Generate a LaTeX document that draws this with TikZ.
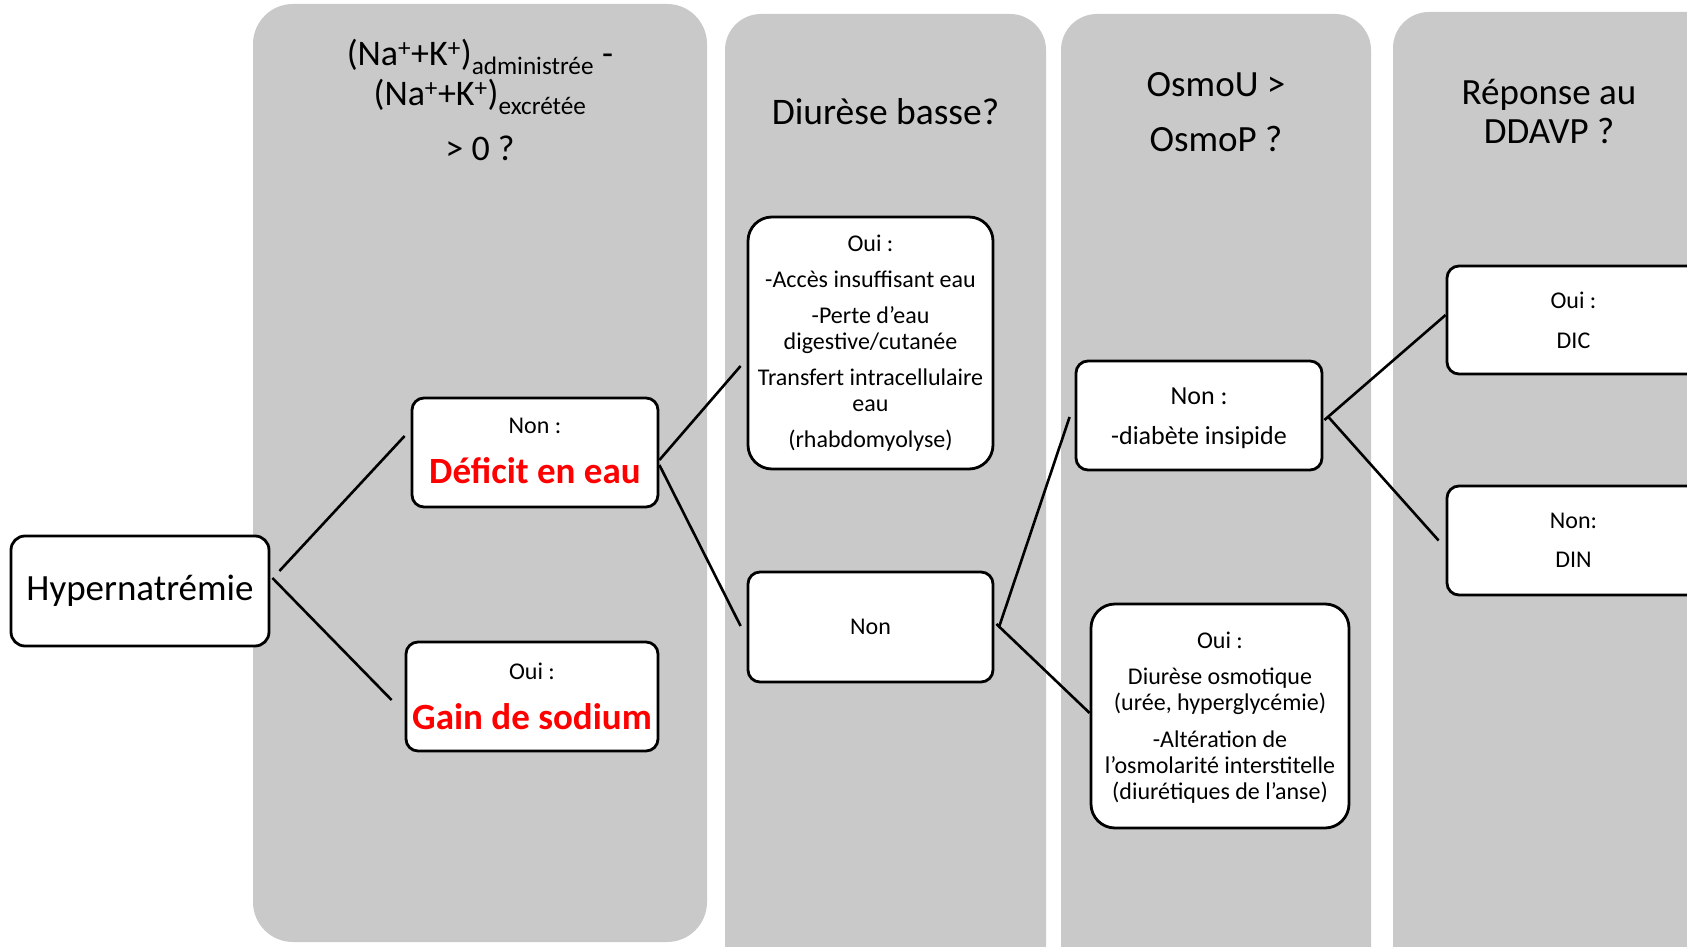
\documentclass[tikz,border=0pt]{standalone}
\usepackage{fontspec}
\setmainfont{Carlito}
\usetikzlibrary{calc}
\definecolor{lanegray}{RGB}{201,201,201}
\definecolor{alertred}{RGB}{255,0,0}
\newcommand\alerttext{\fontsize{37}{40}\selectfont\bfseries\color{alertred}}

\begin{document}
\begin{tikzpicture}[x=1pt,y=-1pt,
  lane/.style={fill=lanegray},
  box/.style={draw=black, line width=2.8pt, fill=white, align=center, inner sep=0pt},
  link/.style={draw=black, line width=2.6pt},
  head/.style={align=center, inner sep=0pt},
]
\fill[white] (0,0) rectangle (1687,947);
\useasboundingbox (0,0) rectangle (1687,947);
\clip (0,0) rectangle (1687,947);

% question lanes
\fill[lane, rounded corners=40pt] (253,4) rectangle (707,942);
\fill[lane, rounded corners=36pt] (725,14) rectangle (1046,1000);
\fill[lane, rounded corners=36pt] (1061,14) rectangle (1371,1000);
\fill[lane, rounded corners=36pt] (1393,12) rectangle (1760,1000);

% lane questions
\node[head, font=\fontsize{36}{40}\selectfont] (q1) at (480,100)
  {(Na\textsuperscript{+}+K\textsuperscript{+})\textsubscript{administrée} -\\(Na\textsuperscript{+}+K\textsuperscript{+})\textsubscript{excrétée}\\[15pt]> 0 ?};
\node[head, font=\fontsize{37.5}{39}\selectfont] (q2) at (885.5,111.5) {Diurèse basse?};
\node[head, font=\fontsize{37}{39}\selectfont] (q3) at (1216,112) {OsmoU >\\[16pt]OsmoP ?};
\node[head, font=\fontsize{37}{39}\selectfont] (q4) at (1549,111) {Réponse au\\DDAVP ?};

% decision boxes
\node[box, rounded corners=14pt, minimum width=258pt, minimum height=110pt,
  font=\fontsize{37}{40}\selectfont] (hyper) at (140,591) {Hypernatrémie};
\node[box, rounded corners=12pt, minimum width=246pt, minimum height=109pt,
  font=\fontsize{24}{50}\selectfont] (deficit) at (535,452.5)
  {Non :\\{\alerttext Déficit en eau}\rule[-4pt]{0pt}{4pt}};
\node[box, rounded corners=12pt, minimum width=252pt, minimum height=109pt,
  font=\fontsize{24}{50}\selectfont] (gain) at (532,696.5) {Oui :\\{\alerttext Gain de sodium}};
\node[box, rounded corners=24pt, minimum width=245pt, minimum height=252pt,
  font=\fontsize{24}{26}\selectfont] (ouiA) at (870.5,343)
  {Oui :\\[10pt]-Accès insuffisant eau\\[10pt]-Perte d’eau\\digestive/cutanée\\[10pt]Transfert intracellulaire\\eau\\[10pt](rhabdomyolyse)};
\node[box, rounded corners=12pt, minimum width=245pt, minimum height=110pt,
  font=\fontsize{24}{26}\selectfont] (nonB) at (870.5,627) {Non};
\node[box, rounded corners=12pt, minimum width=246pt, minimum height=109pt,
  font=\fontsize{26}{40}\selectfont] (diab) at (1199,415.5)
  {\rule{0pt}{23pt}Non :\\-diabète insipide};
\node[box, rounded corners=24pt, minimum width=258pt, minimum height=224pt,
  font=\fontsize{24}{26}\selectfont] (osmo) at (1220,716)
  {\rule{0pt}{20pt}Oui :\\[10pt]Diurèse osmotique\\(urée, hyperglycémie)\\[11pt]-Altération de\\l’osmolarité interstitelle\\(diurétiques de l’anse)};
\node[box, rounded corners=12pt, minimum width=253pt, minimum height=108pt,
  font=\fontsize{24}{40}\selectfont] (dic) at (1573.5,320) {Oui :\\DIC};
\node[box, rounded corners=12pt, minimum width=253pt, minimum height=109pt,
  font=\fontsize{24}{39}\selectfont] (din) at (1573.5,540.5) {Non:\\DIN};

% branches
\draw[link] ($(hyper.east)+(9,-20)$) -- ($(deficit.west)+(-6,-16.5)$);
\draw[link] ($(hyper.east)+(2,-13)$) -- ($(gain.west)+(-13,3.5)$);
\draw[link] ($(deficit.east)+(0,7.5)$) -- ($(ouiA.west)+(-6,23)$);
\draw[link] ($(deficit.east)+(0,12.5)$) -- ($(nonB.west)+(-6,-1)$);
\draw[link] ($(nonB.east)+(5,-1)$) -- ($(diab.west)+(-5,1.5)$);
\draw[link] ($(nonB.east)+(2,-3)$) -- ($(osmo.west)+(0,-3)$);
\draw[link] ($(diab.east)+(1,4.5)$) -- ($(dic.west)+(0,-5)$);
\draw[link] ($(diab.east)+(5,1.5)$) -- ($(din.west)+(-7,0)$);
\end{tikzpicture}
\end{document}
